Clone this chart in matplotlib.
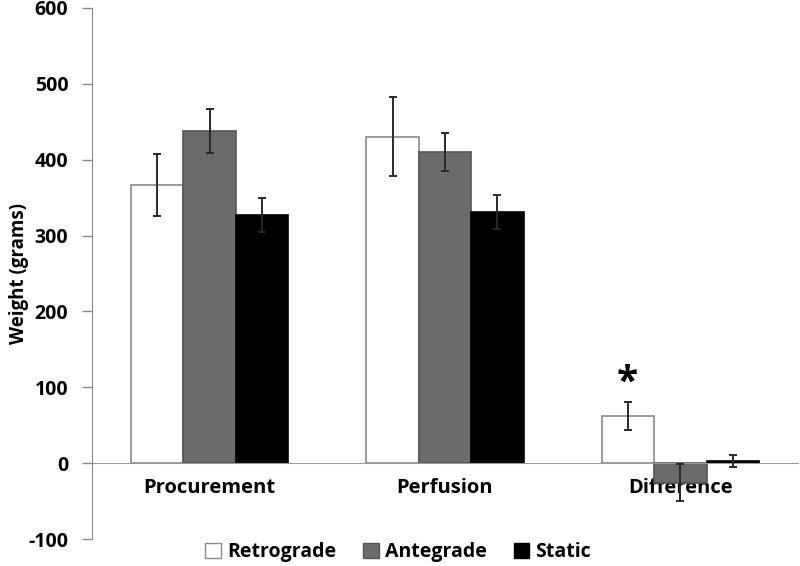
import matplotlib
matplotlib.use("Agg")
import matplotlib.pyplot as plt
import numpy as np
from matplotlib.patches import Patch

plt.rcParams['font.family'] = ['Open Sans', 'DejaVu Sans']
plt.rcParams['font.weight'] = 'bold'
plt.rcParams['axes.unicode_minus'] = False

categories = ["Procurement", "Perfusion", "Difference"]
series = ["Retrograde", "Antegrade", "Static"]
retrograde = [367, 430, 62]
antegrade = [438, 410, -26]
static = [327, 331, 2.5]
retrograde_err = [41, 52, 18.5]
antegrade_err = [29, 25.5, 24.5]
static_err = [22, 22.5, 8]

values = [retrograde, antegrade, static]
errors = [retrograde_err, antegrade_err, static_err]
faces = ["white", "#6b6b6b", "black"]
edges = ["#8a8a8a", "#555555", "black"]

fig = plt.figure(figsize=(8, 5.66), dpi=100)
ax = fig.add_axes([0.115, 0.0477, 0.8825, 0.9382])

x = np.arange(len(categories))
w = 0.223
for i in range(3):
    ax.bar(x + (i - 1) * w, values[i], w, color=faces[i], edgecolor=edges[i],
           linewidth=1.2, zorder=2)
    ax.errorbar(x + (i - 1) * w, values[i], yerr=errors[i], fmt='none',
                ecolor="#2a2a2a", elinewidth=1.4, capsize=3, capthick=1.4, zorder=3)

ax.text(x[2] - w, 80, "*", ha='center', va='bottom', fontsize=28, fontweight='bold')

ax.set_xlim(-0.5, 2.5)
ax.set_ylim(-100, 600)
ax.set_yticks(np.arange(-100, 601, 100))
ax.set_xticks(x)
ax.set_xticklabels(categories)
ax.tick_params(axis='y', labelsize=14, length=7, color="#8a8a8a", width=1, pad=10)
ax.tick_params(axis='x', labelsize=14.5, length=0, pad=11)

ax.spines['top'].set_visible(False)
ax.spines['right'].set_visible(False)
ax.spines['bottom'].set_position(('data', 0))
ax.spines['bottom'].set_color("#9a9a9a")
ax.spines['left'].set_color("#8a8a8a")

ax.set_ylabel("Weight (grams)", fontsize=13.5, fontweight='bold', va='center')
ax.yaxis.set_label_coords(-0.104, 0.5)

handles = [Patch(facecolor=faces[i], edgecolor=edges[i], label=series[i]) for i in range(3)]
fig.legend(handles=handles, loc='center', bbox_to_anchor=(0.4975, 0.025), ncol=3,
           frameon=False, prop={'size': 14, 'weight': 'bold'}, handlelength=0.8,
           handleheight=0.8, handletextpad=0.3, columnspacing=1.4)

fig.savefig("out.png", dpi=100)
